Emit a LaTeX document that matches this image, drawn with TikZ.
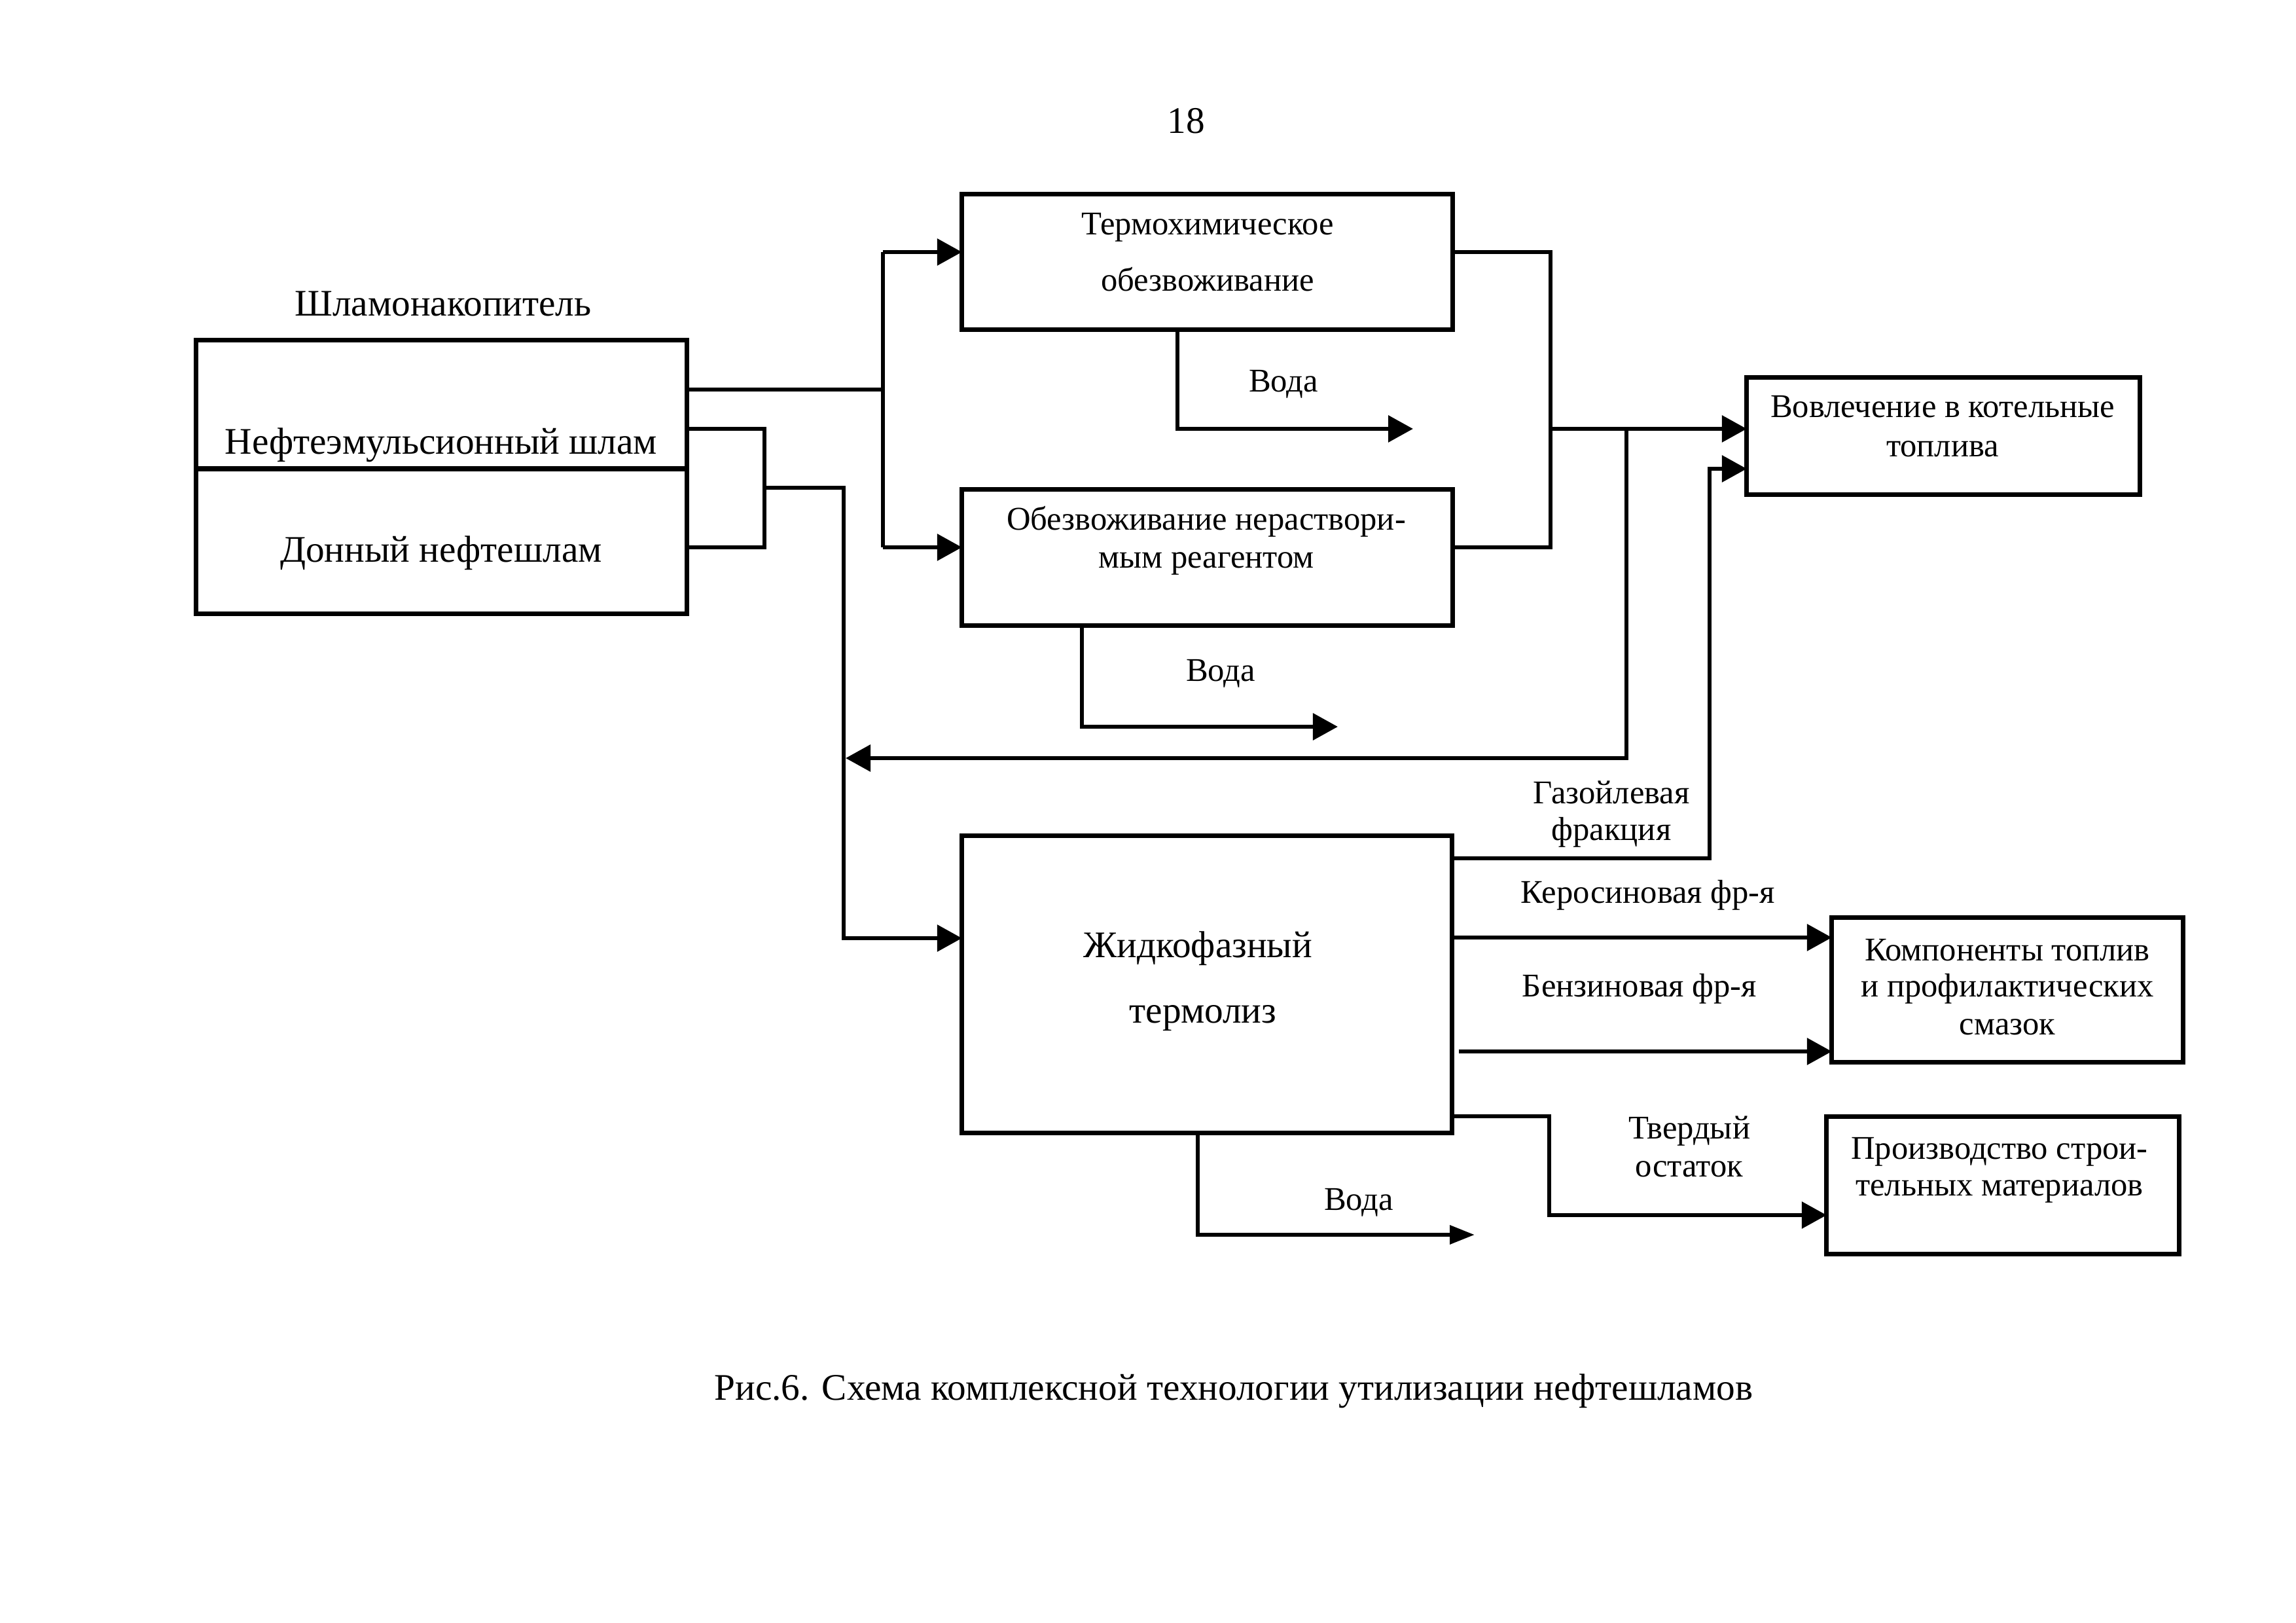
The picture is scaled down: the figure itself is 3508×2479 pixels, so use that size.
\documentclass[tikz,border=0pt]{standalone}
\usepackage{fontspec}
\setmainfont{Liberation Serif}
\usetikzlibrary{arrows.meta}
\begin{document}
\begin{tikzpicture}[x=0.01cm,y=-0.01cm,
  box/.style={draw, rectangle, line width=0.07cm, inner sep=0pt, outer sep=0pt},
  conn/.style={line width=0.065cm},
  arr/.style={conn, -{Triangle[length=0.38cm,width=0.40cm]}},
  sarr/.style={conn, -{Triangle[length=0.38cm,width=0.28cm]}},
  big/.style={font=\fontsize{16.3}{19}\selectfont, inner sep=0pt, anchor=base},
  small/.style={font=\fontsize{14.4}{17}\selectfont, inner sep=0pt, anchor=base}]
\useasboundingbox (0,0) rectangle (3508,2479);
\fill[white] (0,0) rectangle (3508,2479);

% boxes
\node[box, minimum width=7.49cm, minimum height=4.17cm] (S) at (674.5,728.5) {};
\node[box, minimum width=7.49cm, minimum height=2.06cm] (T) at (1844.5,400) {};
\node[box, minimum width=7.49cm, minimum height=2.07cm] (O) at (1844.5,851.5) {};
\node[box, minimum width=6.00cm, minimum height=1.78cm] (V) at (2969,666) {};
\node[box, minimum width=7.48cm, minimum height=4.53cm] (Z) at (1844,1503.5) {};
\node[box, minimum width=5.36cm, minimum height=2.20cm] (K) at (3067,1512) {};
\node[box, minimum width=5.38cm, minimum height=2.09cm] (P) at (3060,1810.5) {};

% divider in left box
\coordinate (dv) at (674,716);
\draw[line width=0.07cm] (S.west |- dv) -- (S.east |- dv);

% texts
\node[big] (pg) at (1812,204) {18};
\node[big] (sh) at (677,483) {Шламонакопитель};
\node[big] (s1) at (674,693) {Нефтеэмульсионный шлам};
\node[big] (s2) at (674,858) {Донный нефтешлам};
\node[small] (t1) at (1845,359) {Термохимическое};
\node[small] (t2) at (1845,445) {обезвоживание};
\node[small] (o1) at (1843,809) {Обезвоживание нераствори-};
\node[small] (o2) at (1843,867) {мым реагентом};
\node[small] (wa) at (1961,599) {Вода};
\node[small] (wb) at (1865,1040) {Вода};
\node[small] (wc) at (2076,1848) {Вода};
\node[small] (v1) at (2968,638) {Вовлечение в котельные};
\node[small] (v2) at (2968,697) {топлива};
\node[big] (z1) at (1830,1462) {Жидкофазный};
\node[big] (z2) at (1838,1562) {термолиз};
\node[small] (g1t) at (2462,1227) {Газойлевая};
\node[small] (g2t) at (2462,1283) {фракция};
\node[small] (kt) at (2518,1379) {Керосиновая фр-я};
\node[small] (bt) at (2505,1522) {Бензиновая фр-я};
\node[small] (k1t) at (3067,1467) {Компоненты топлив};
\node[small] (k2t) at (3067,1522) {и профилактических};
\node[small] (k3t) at (3067,1580) {смазок};
\node[small] (p1t) at (3055,1770) {Производство строи-};
\node[small] (p2t) at (3055,1826) {тельных материалов};
\node[small] (tv1) at (2581,1739) {Твердый};
\node[small] (tv2) at (2581,1797) {остаток};
\node[big] (cap) at (1885,2138) {Рис.6. Схема комплексной технологии утилизации нефтешламов};

% split from left box to T and O
\coordinate (a1) at (1349,595);
\coordinate (a2) at (1349,385);
\coordinate (a3) at (1349,836);
\draw[conn] (S.east |- a1) -- (a1);
\draw[conn] (a2) -- (a3);
\draw[arr] (a2) -- (a2 -| T.west);
\draw[arr] (a3) -- (a3 -| O.west);

% loop from left box and feed to Z
\coordinate (b1) at (1168,655);
\coordinate (b2) at (1168,836);
\coordinate (b3) at (1168,745);
\coordinate (b4) at (1289,745);
\coordinate (b5) at (1289,1433);
\draw[conn] (S.east |- b1) -- (b1) -- (b2) -- (S.east |- b2);
\draw[arr] (b3) -- (b4) -- (b5) -- (b5 -| Z.west);

% water outlets
\coordinate (w1) at (1799,655);
\coordinate (w1e) at (2159,655);
\draw[arr] (T.south -| w1) -- (w1) -- (w1e);
\coordinate (w2) at (1653,1110);
\coordinate (w2e) at (2044,1110);
\draw[arr] (O.south -| w2) -- (w2) -- (w2e);
\coordinate (w3) at (1830,1886);
\coordinate (w3e) at (2253,1886);
\draw[sarr] (Z.south -| w3) -- (w3) -- (w3e);

% T and O to V
\coordinate (c1) at (2369,385);
\coordinate (c2) at (2369,836);
\coordinate (c3) at (2369,655);
\draw[conn] (T.east |- c1) -- (c1) -- (c2) -- (O.east |- c2);
\draw[arr] (c3) -- (c3 -| V.west);

% return line
\coordinate (r1) at (2485,655);
\coordinate (r2) at (2485,1158);
\coordinate (r3) at (1292,1158);
\draw[arr] (r1) -- (r2) -- (r3);

% gas oil fraction to V
\coordinate (g1) at (2612,1311);
\coordinate (g2) at (2612,716);
\draw[arr] (Z.east |- g1) -- (g1) -- (g2) -- (g2 -| V.west);

% kerosene and benzine to K
\coordinate (k1) at (2500,1432);
\draw[arr] (Z.east |- k1) -- (K.west |- k1);
\coordinate (bz) at (2229,1606);
\draw[arr] (bz) -- (K.west |- bz);

% solid residue to P
\coordinate (q1) at (2367,1705);
\coordinate (q2) at (2367,1856);
\draw[arr] (Z.east |- q1) -- (q1) -- (q2) -- (P.west |- q2);
\end{tikzpicture}
\end{document}
